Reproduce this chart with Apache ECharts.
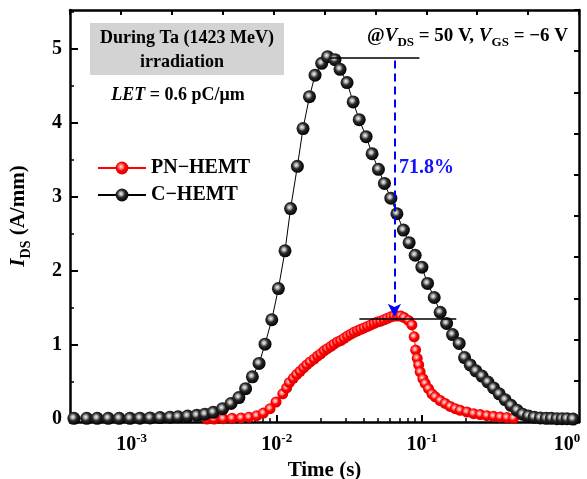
<!DOCTYPE html>
<html>
<head>
<meta charset="utf-8">
<script src="https://cdn.jsdelivr.net/npm/echarts@6/dist/echarts.min.js"></script>
<style>
html,body{margin:0;padding:0;background:#fff;}
#chart{width:587px;height:479px;}
</style>
</head>
<body>
<div id="chart"></div>
<script>
// ---- Data (time in s, current in A/mm) ----
const seriesNames = ['PN\u2212HEMT', 'C\u2212HEMT'];

const pnTime = [3.30e-3,3.70e-3,4.27e-3,4.92e-3,5.68e-3,6.44e-3,7.28e-3,8.09e-3,8.99e-3,9.89e-3,
  1.10e-2,1.17e-2,1.22e-2,1.30e-2,1.37e-2,1.45e-2,1.53e-2,1.61e-2,1.70e-2,1.81e-2,
  1.91e-2,2.01e-2,2.12e-2,2.23e-2,2.36e-2,2.48e-2,2.62e-2,2.76e-2,2.91e-2,3.07e-2,
  3.24e-2,3.41e-2,3.60e-2,3.79e-2,4.00e-2,4.22e-2,4.45e-2,4.69e-2,4.94e-2,5.21e-2,
  5.50e-2,5.79e-2,6.11e-2,6.44e-2,6.79e-2,7.16e-2,7.55e-2,8.09e-2,8.53e-2,8.85e-2,
  9.06e-2,9.29e-2,9.51e-2,9.73e-2,0.1016,0.1054,0.1111,0.1173,0.1236,0.1337,
  0.1448,0.1567,0.1698,0.1837,0.2043,0.2270,0.2523,0.2806,0.3118,0.3467,0.3855,0.4285];
const pnCurrent = [0.0,0.0,0.005,0.01,0.015,0.025,0.045,0.08,0.14,0.23,
  0.34,0.42,0.49,0.55,0.60,0.645,0.69,0.73,0.77,0.81,
  0.85,0.88,0.92,0.95,0.98,1.01,1.04,1.06,1.09,1.12,
  1.145,1.17,1.19,1.21,1.23,1.25,1.27,1.29,1.31,1.32,
  1.34,1.36,1.38,1.39,1.39,1.39,1.37,1.33,1.27,1.11,
  0.93,0.82,0.73,0.635,0.545,0.48,0.41,0.34,0.30,0.25,
  0.21,0.17,0.14,0.118,0.095,0.073,0.06,0.046,0.036,0.027,0.02,0.01];

const cTime = [4.00e-4,4.90e-4,5.79e-4,6.90e-4,8.21e-4,9.74e-4,1.14e-3,1.34e-3,1.57e-3,1.84e-3,
  2.09e-3,2.43e-3,2.81e-3,3.20e-3,3.65e-3,4.23e-3,4.84e-3,5.48e-3,6.10e-3,6.79e-3,
  7.55e-3,8.30e-3,9.24e-3,1.026e-2,1.14e-2,1.245e-2,1.387e-2,1.517e-2,1.68e-2,1.836e-2,
  2.04e-2,2.24e-2,2.52e-2,2.73e-2,3.05e-2,3.36e-2,3.70e-2,4.13e-2,4.54e-2,5.02e-2,
  5.52e-2,6.11e-2,6.73e-2,7.46e-2,8.17e-2,8.99e-2,0.100,0.1094,0.1216,0.1337,
  0.148,0.1626,0.1807,0.1968,0.2153,0.2355,0.2594,0.2851,0.312,0.341,
  0.375,0.411,0.452,0.494,0.543,0.594,0.655,0.719,0.780,0.853,0.925,1.0,1.1];
const cCurrent = [0.01,0.01,0.01,0.01,0.01,0.01,0.012,0.015,0.02,0.025,
  0.03,0.04,0.05,0.065,0.09,0.14,0.21,0.29,0.41,0.57,
  0.75,1.01,1.34,1.76,2.27,2.84,3.41,3.92,4.35,4.64,
  4.80,4.89,4.85,4.72,4.54,4.28,4.04,3.81,3.58,3.37,
  3.18,2.98,2.77,2.55,2.38,2.21,2.05,1.83,1.64,1.44,
  1.29,1.14,1.02,0.83,0.73,0.65,0.58,0.50,0.42,0.34,
  0.26,0.185,0.12,0.065,0.04,0.025,0.015,0.01,0.01,0.005,0.005,0.005,0.0];

const xMajorTicks = [0.001, 0.01, 0.1, 1];
const xMinorTicks = [4e-4,5e-4,6e-4,7e-4,8e-4,9e-4,
  2e-3,3e-3,4e-3,5e-3,6e-3,7e-3,8e-3,9e-3,
  2e-2,3e-2,4e-2,5e-2,6e-2,7e-2,8e-2,9e-2,
  0.2,0.3,0.4,0.5,0.6,0.7,0.8,0.9];
const yMajorTicks = [0, 1, 2, 3, 4, 5];
const yMinorTicks = [0.5, 1.5, 2.5, 3.5, 4.5, 5.5];

// annotation values
const cPeak = 4.87, pnPeak = 1.36, markTime = 0.0647;
const reductionLabel = '71.8%';

const FONT = '"Liberation Serif", "Times New Roman", serif';
const zip = (a, b) => a.map((v, i) => [v, b[i]]);

const blackSphere = {type:'radial', x:0.42, y:0.4, r:0.6, colorStops:[
  {offset:0, color:'#f4f4f4'},{offset:0.22, color:'#b0b0b0'},{offset:0.5, color:'#2a2a2a'},{offset:1, color:'#000'}]};
const redSphere = {type:'radial', x:0.42, y:0.4, r:0.6, colorStops:[
  {offset:0, color:'#ffe8e8'},{offset:0.25, color:'#ff8a8a'},{offset:0.55, color:'#ff0000'},{offset:1, color:'#e00000'}]};

const chart = echarts.init(document.getElementById('chart'), null, {renderer:'canvas'});
const axisLineStyle = {color:'#000', width:2.5};
chart.setOption({
  animation:false,
  backgroundColor:'#fff',
  grid:{left:70, right:8, top:10, bottom:57, containLabel:false, outerBoundsMode:'none'},
  legend:{
    data:seriesNames, orient:'vertical', left:92, top:153,
    itemWidth:48, itemHeight:16, itemGap:7,
    textStyle:{fontFamily:FONT, fontWeight:'bold', fontSize:20, color:'#000'}
  },
  xAxis:[
    {type:'log', min:3.76e-4, max:1.21, position:'bottom',
     axisLine:{onZero:false, lineStyle:axisLineStyle},
     axisTick:{inside:true, length:7, customValues:xMajorTicks, lineStyle:{width:2, color:'#000'}},
     axisLabel:{customValues:xMajorTicks, margin:10,
       formatter:(v)=>'{b|10}{s|' + Math.round(Math.log10(v)) + '}',
       rich:{b:{fontFamily:FONT, fontWeight:'bold', fontSize:20, lineHeight:26, color:'#000'},
             s:{fontFamily:FONT, fontWeight:'bold', fontSize:13, lineHeight:13, verticalAlign:'top', color:'#000'}}},
     splitLine:{show:false},
     name:'Time (s)', nameLocation:'middle', nameGap:36,
     nameTextStyle:{fontFamily:FONT, fontWeight:'bold', fontSize:21, color:'#000'}},
    {type:'log', min:3.76e-4, max:1.21, position:'bottom',
     axisLine:{show:false, onZero:false},
     axisTick:{inside:true, length:4, customValues:xMinorTicks, lineStyle:{width:1.5, color:'#000'}},
     axisLabel:{show:false}, splitLine:{show:false}},
    {type:'value', min:0, max:10, interval:1, position:'top',
     axisLine:{onZero:false, lineStyle:axisLineStyle},
     axisTick:{inside:true, length:5, lineStyle:{width:2, color:'#000'}},
     axisLabel:{show:false}, splitLine:{show:false}}
  ],
  yAxis:[
    {type:'value', min:-0.04, max:5.52, position:'left',
     axisLine:{show:true, onZero:false, lineStyle:axisLineStyle},
     axisTick:{show:true, inside:true, length:8, customValues:yMajorTicks, lineStyle:{width:2, color:'#000'}},
     axisLabel:{customValues:yMajorTicks, margin:8,
       fontFamily:FONT, fontWeight:'bold', fontSize:20, color:'#000'},
     splitLine:{show:false},
     name:'{i|I}{s|DS}{n| (A/mm)}', nameLocation:'middle', nameGap:37,
     nameTextStyle:{rich:{
       i:{fontFamily:FONT, fontWeight:'bold', fontStyle:'italic', fontSize:21, lineHeight:28, color:'#000'},
       s:{fontFamily:FONT, fontWeight:'bold', fontSize:14, lineHeight:14, verticalAlign:'bottom', color:'#000'},
       n:{fontFamily:FONT, fontWeight:'bold', fontSize:21, lineHeight:28, color:'#000'}}}},
    {type:'value', min:-0.04, max:5.52, position:'left',
     axisLine:{show:false, onZero:false},
     axisTick:{show:true, inside:true, length:4, customValues:yMinorTicks, lineStyle:{width:1.5, color:'#000'}},
     axisLabel:{show:false}, splitLine:{show:false}},
    {type:'value', min:0, max:10, interval:1, position:'right',
     axisLine:{show:true, onZero:false, lineStyle:axisLineStyle},
     axisTick:{show:true, inside:true, length:5, lineStyle:{width:2, color:'#000'}},
     axisLabel:{show:false}, splitLine:{show:false}}
  ],
  series:[
    {name:seriesNames[0], type:'line', xAxisIndex:0, yAxisIndex:0, data:zip(pnTime, pnCurrent),
     symbol:'circle', symbolSize:11, clip:false, z:2,
     itemStyle:{color:redSphere}, lineStyle:{color:'#ff0000', width:1}},
    {name:seriesNames[1], type:'line', xAxisIndex:0, yAxisIndex:0, data:zip(cTime, cCurrent),
     symbol:'circle', symbolSize:13, clip:false, z:3,
     itemStyle:{color:blackSphere}, lineStyle:{color:'#000', width:1}},
    {type:'line', xAxisIndex:0, yAxisIndex:0, data:[], z:5, silent:true,
     markLine:{silent:true, animation:false, symbol:['none','none'], label:{show:false},
       lineStyle:{color:'#000', width:1.6, type:'solid'},
       data:[
         [{coord:[0.0233, cPeak]}, {coord:[0.0962, cPeak]}],
         [{coord:[0.0371, pnPeak]}, {coord:[0.1726, pnPeak]}],
         [{coord:[markTime, cPeak - 0.03], symbol:'none'},
          {coord:[markTime, pnPeak + 0.02], symbol:'arrow', symbolSize:[10,13],
           lineStyle:{color:'#0000ff', width:2, type:[8,5]}}]
       ]}}
  ],
  graphic:[
    {type:'rect', shape:{x:90, y:23, width:194, height:52}, style:{fill:'#d3d3d3'}, z:1},
    {type:'text', x:187, y:38, z:2, style:{text:'During Ta (1423 MeV)', fontFamily:FONT, fontWeight:'bold', fontSize:18, fill:'#000', align:'center', verticalAlign:'middle'}},
    {type:'text', x:182, y:62, z:2, style:{text:'irradiation', fontFamily:FONT, fontWeight:'bold', fontSize:18, fill:'#000', align:'center', verticalAlign:'middle'}},
    {type:'text', x:178, y:95, z:2, style:{text:'{i|LET}{n| = 0.6 pC/\u03bcm}', align:'center', verticalAlign:'middle',
      rich:{i:{fontFamily:FONT, fontWeight:'bold', fontStyle:'italic', fontSize:18, fill:'#000'},
            n:{fontFamily:FONT, fontWeight:'bold', fontSize:18, fill:'#000'}}}},
    {type:'text', x:568, y:36, z:2, style:{text:'{n|@}{i|V}{s|DS}{n| = 50 V, }{i|V}{s|GS}{n| = \u22126 V}', align:'right', verticalAlign:'middle',
      rich:{n:{fontFamily:FONT, fontWeight:'bold', fontSize:19, lineHeight:26, fill:'#000'},
            i:{fontFamily:FONT, fontWeight:'bold', fontStyle:'italic', fontSize:19, lineHeight:26, fill:'#000'},
            s:{fontFamily:FONT, fontWeight:'bold', fontSize:13, lineHeight:13, verticalAlign:'bottom', fill:'#000'}}}},
    {type:'text', x:399, y:168, z:2, style:{text:reductionLabel, fontFamily:FONT, fontWeight:'bold', fontSize:20, fill:'#1414ff', align:'left', verticalAlign:'middle'}}
  ]
});
</script>
</body>
</html>
